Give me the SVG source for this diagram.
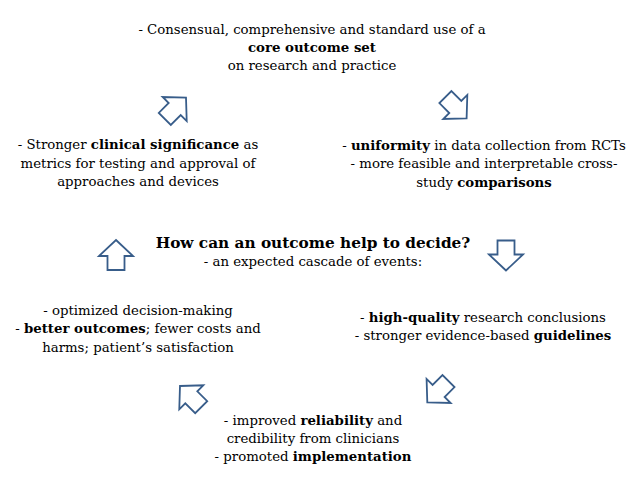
<svg xmlns="http://www.w3.org/2000/svg" xmlns:xlink="http://www.w3.org/1999/xlink" width="641" height="479" viewBox="0 0 641 479">
<style>
text{font-family:"DejaVu Serif","Liberation Serif",serif;font-size:13.3px;fill:#000;text-anchor:middle}
.b{font-weight:bold}
.title{font-size:15.3px;font-weight:bold}
.arr{fill:#fff;stroke:#385d8a;stroke-width:1.8;stroke-linejoin:miter}
</style>
<defs>
<path id="ar" d="M0,-15 L17,1 L8.5,1 L8.5,15 L-8.5,15 L-8.5,1 L-17,1 Z"/>
</defs>
<rect width="641" height="479" fill="#fff"/>
<g id="connectors">
<use xlink:href="#ar" class="arr" transform="translate(175.4,108.3) rotate(45)"/>
<use xlink:href="#ar" class="arr" transform="translate(456,107.7) rotate(135)"/>
<use xlink:href="#ar" class="arr" transform="translate(116,255) rotate(0)"/>
<use xlink:href="#ar" class="arr" transform="translate(506,255.5) rotate(180)"/>
<use xlink:href="#ar" class="arr" transform="translate(437.9,391.7) rotate(225)"/>
<use xlink:href="#ar" class="arr" transform="translate(190.6,396.6) rotate(-45)"/>
</g>
<g id="node-core">
<text x="312" y="34">- Consensual, comprehensive and standard use of a</text>
<text x="312" y="52" class="b">core outcome set</text>
<text x="312" y="70">on research and practice</text>
</g>
<g id="node-uniformity">
<text x="484" y="150">- <tspan class="b">uniformity</tspan> in data collection from RCTs</text>
<text x="484" y="168">- more feasible and interpretable cross-</text>
<text x="484" y="187">study <tspan class="b">comparisons</tspan></text>
</g>
<g id="node-quality">
<text x="483" y="322">- <tspan class="b">high-quality</tspan> research conclusions</text>
<text x="483" y="340">- stronger evidence-based <tspan class="b">guidelines</tspan></text>
</g>
<g id="node-reliability">
<text x="313" y="425">- improved <tspan class="b">reliability</tspan> and</text>
<text x="313" y="443">credibility from clinicians</text>
<text x="313" y="461">- promoted <tspan class="b">implementation</tspan></text>
</g>
<g id="node-decision">
<text x="138" y="315">- optimized decision-making</text>
<text x="138" y="333">- <tspan class="b">better outcomes</tspan>; fewer costs and</text>
<text x="138" y="352">harms; patient’s satisfaction</text>
</g>
<g id="node-significance">
<text x="138" y="149">- Stronger <tspan class="b">clinical significance</tspan> as</text>
<text x="138" y="168">metrics for testing and approval of</text>
<text x="138" y="186">approaches and devices</text>
</g>
<g id="node-center">
<text x="313" y="248" class="title">How can an outcome help to decide?</text>
<text x="313" y="266">- an expected cascade of events:</text>
</g>
</svg>
